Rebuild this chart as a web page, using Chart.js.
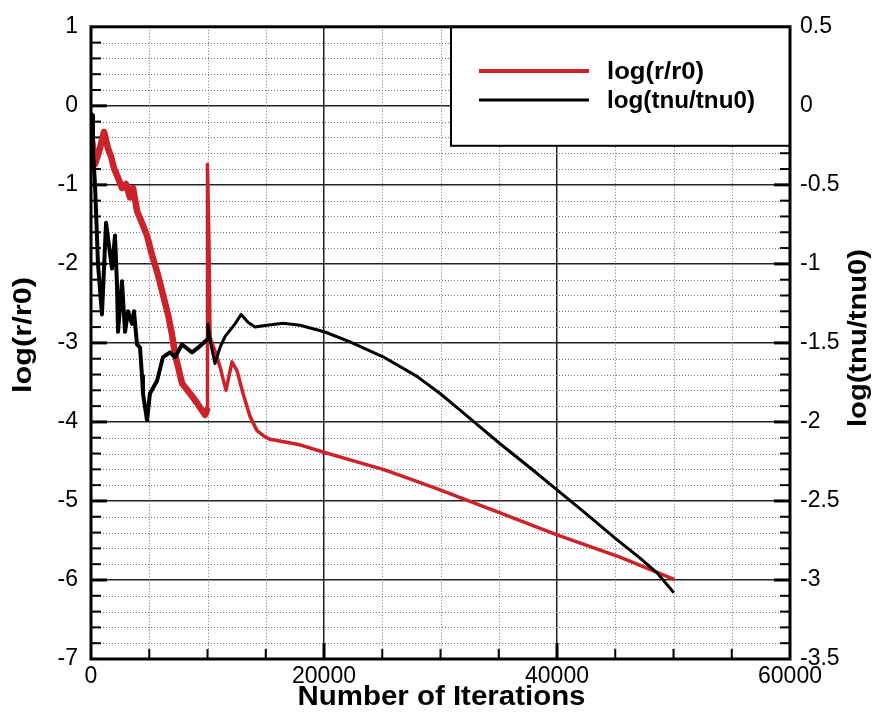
<!DOCTYPE html>
<html>
<head>
<meta charset="utf-8">
<title>Convergence history</title>
<script src="https://cdn.jsdelivr.net/npm/chart.js@4.4.0/dist/chart.umd.min.js"></script>
<style>
  html, body { margin: 0; padding: 0; background: #fff; }
  canvas { display: block; }
</style>
</head>
<body>
<canvas id="myChart" width="876" height="719"></canvas>
<script>
// Residual history, log(r/r0) on the left axis
const redIters = [100, 340, 690, 1120, 1460, 1720, 1970, 2320, 2660, 3000, 3350, 3610, 3950, 4290, 4810,
    5240, 5750, 6180, 6610, 6950, 7210, 7470, 7810, 8500, 9100, 9790, 9960, 10000, 10130, 10220, 10640,
    11070, 11590, 12100, 12530, 13050, 13650, 14250, 14940, 15370, 17940, 19920, 22230, 25070, 27380,
    29960, 35110, 40000, 45410, 50000];
const redVals = [-0.45, -0.74, -0.58, -0.33, -0.54, -0.64, -0.79, -0.91, -1.04, -0.99, -1.16, -1.04, -1.33, -1.45, -1.64,
    -1.89, -2.14, -2.39, -2.64, -2.89, -3.14, -3.30, -3.51, -3.64, -3.76, -3.91, -3.85, -0.74, -1.76, -2.93, -3.10,
    -3.30, -3.60, -3.24, -3.35, -3.64, -3.93, -4.11, -4.19, -4.22, -4.29, -4.38, -4.48, -4.60, -4.72,
    -4.86, -5.15, -5.43, -5.71, -5.99];

// Turbulence variable history, log(tnu/tnu0) on the right axis
const tnuIters = [0, 100, 170, 340, 600, 940, 1290, 1800, 2060, 2230, 2320, 2660, 2920, 3180, 3520, 3690,
    3950, 4210, 4380, 4460, 4810, 5060, 5670, 6180, 6780, 7210, 7810, 8670, 9360, 9960, 10040, 10300,
    10640, 11070, 11500, 12360, 12880, 13480, 14080, 14940, 16480, 17940, 20090, 22230, 25070, 27980,
    29960, 31680, 33390, 35110, 37690, 40000, 42410, 44980, 47130, 48590, 49960];
const tnuVals = [-0.05, -0.06, -0.29, -0.49, -1.00, -1.32, -0.74, -1.03, -0.82, -1.13, -1.43, -1.11, -1.43, -1.30, -1.38, -1.30,
    -1.51, -1.53, -1.71, -1.82, -1.99, -1.82, -1.74, -1.59, -1.56, -1.59, -1.51, -1.56, -1.52, -1.48, -1.38, -1.51,
    -1.63, -1.53, -1.46, -1.38, -1.32, -1.37, -1.40, -1.39, -1.375, -1.388, -1.431, -1.494, -1.588, -1.712,
    -1.820, -1.925, -2.031, -2.138, -2.290, -2.430, -2.575, -2.735, -2.862, -2.955, -3.075];

const seriesNames = ["log(r/r0)", "log(tnu/tnu0)"];
const xTicks = [0, 20000, 40000, 60000];
const leftTicks = [1, 0, -1, -2, -3, -4, -5, -6, -7];
const rightTicks = [0.5, 0, -0.5, -1, -1.5, -2, -2.5, -3, -3.5];

const RED = "#cc2229";
const FONT = "'Liberation Sans', Arial, Helvetica, sans-serif";
const X_MINOR = 5000;
const Y_MINOR = 0.2;

const toPoints = (xs, ys) => xs.map((x, i) => ({ x: x, y: ys[i] }));

const line = (ctx, x1, y1, x2, y2) => {
    ctx.beginPath();
    ctx.moveTo(x1, y1);
    ctx.lineTo(x2, y2);
    ctx.stroke();
};

// text squeezed or stretched to a given width
const fitText = (ctx, text, x, y, angle, font, width, align) => {
    ctx.save();
    ctx.font = font;
    const w = ctx.measureText(text).width;
    ctx.translate(x, y);
    ctx.rotate(angle);
    ctx.scale(width / w, 1);
    ctx.textAlign = align || "center";
    ctx.textBaseline = "middle";
    ctx.fillStyle = "#000";
    ctx.fillText(text, 0, 0);
    ctx.restore();
};

const setTicks = (list) => (scale) => {
    scale.ticks = list.map((v) => ({ value: v }));
};

// dotted minor grid and inward tick marks
const minorGrid = {
    id: "minorGrid",
    beforeDatasetsDraw(chart) {
        const { ctx, chartArea: a, scales } = chart;
        const xs = scales.x, ys = scales.y;
        ctx.save();
        ctx.strokeStyle = "#777";
        ctx.lineWidth = 1;
        ctx.setLineDash([1, 2]);
        for (let v = X_MINOR; v < xs.max; v += X_MINOR) {
            if (xTicks.includes(v)) continue;
            const px = Math.round(xs.getPixelForValue(v)) + 0.5;
            line(ctx, px, a.top, px, a.bottom);
        }
        for (let i = 1; i < 40; i++) {
            if (i % 5 === 0) continue;
            const py = Math.round(ys.getPixelForValue(ys.max - i * Y_MINOR)) + 0.5;
            line(ctx, a.left, py, a.right, py);
        }
        ctx.setLineDash([]);
        ctx.strokeStyle = "#000";
        // bottom ticks
        for (let v = X_MINOR; v < xs.max; v += X_MINOR) {
            const major = xTicks.includes(v);
            ctx.lineWidth = major ? 3 : 2;
            const px = xs.getPixelForValue(v);
            line(ctx, px, a.bottom, px, a.bottom - (major ? 16 : 10));
        }
        // left and right ticks
        for (let i = 1; i < 40; i++) {
            const major = i % 5 === 0;
            ctx.lineWidth = major ? 3 : 2;
            const py = ys.getPixelForValue(ys.max - i * Y_MINOR);
            const len = major ? 16 : 10;
            line(ctx, a.left, py, a.left + len, py);
            line(ctx, a.right, py, a.right - len, py);
        }
        ctx.restore();
    },
    afterDraw(chart) {
        const { ctx, chartArea: a } = chart;
        ctx.save();

        // legend box
        const lx = 451, ly = a.top, lw = a.right - 451, lh = 119;
        ctx.fillStyle = "#fff";
        ctx.fillRect(lx, ly, lw, lh);
        ctx.strokeStyle = "#000";
        ctx.lineWidth = 2;
        ctx.strokeRect(lx, ly, lw, lh);

        const rows = [
            { name: seriesNames[0], color: RED, width: 4, y: 71, w: 97 },
            { name: seriesNames[1], color: "#000", width: 3, y: 100, w: 148 },
        ];
        rows.forEach((r) => {
            ctx.strokeStyle = r.color;
            ctx.lineWidth = r.width;
            line(ctx, 479, r.y, 589, r.y);
            fitText(ctx, r.name, 607, r.y + 1, 0, "bold 24px " + FONT, r.w, "left");
        });

        // plot frame
        ctx.strokeStyle = "#000";
        ctx.lineWidth = 3;
        ctx.strokeRect(a.left, a.top, a.right - a.left, a.bottom - a.top);

        // axis titles
        fitText(ctx, "Number of Iterations", (a.left + a.right) / 2 + 1, 698, 0, "bold 27px " + FONT, 288);
        fitText(ctx, "log(r/r0)", 24, 335, -Math.PI / 2, "bold 26px " + FONT, 116);
        fitText(ctx, "log(tnu/tnu0)", 859, 338, -Math.PI / 2, "bold 26px " + FONT, 178);
        ctx.restore();
    },
};

const tickFont = { family: FONT, size: 23 };

const ctx = document.getElementById("myChart").getContext("2d");
const myChart = new Chart(ctx, {
    type: "line",
    data: {
        datasets: [
            {
                label: seriesNames[0],
                data: toPoints(redIters, redVals),
                yAxisID: "y",
                borderColor: RED,
                borderWidth: 3.5,
                segment: { borderWidth: (c) => (c.p1.parsed.x < 9990 ? 6.5 : 3.5) },
                order: 2,
            },
            {
                label: seriesNames[1],
                data: toPoints(tnuIters, tnuVals),
                yAxisID: "y2",
                borderColor: "#000",
                borderWidth: 3,
                segment: { borderWidth: (c) => (c.p1.parsed.x < 9990 ? 4 : 3) },
                order: 1,
            },
        ],
    },
    options: {
        responsive: false,
        animation: false,
        devicePixelRatio: 1,
        parsing: false,
        elements: {
            point: { radius: 0 },
            line: { tension: 0, borderJoinStyle: "round", borderCapStyle: "round" },
        },
        layout: { padding: { top: 19, left: 0, right: 0, bottom: 0 } },
        plugins: {
            legend: { display: false },
            tooltip: { enabled: false },
        },
        scales: {
            x: {
                type: "linear",
                min: 0,
                max: 60000,
                afterBuildTicks: setTicks(xTicks),
                afterFit: (s) => { s.height = 60; },
                ticks: {
                    autoSkip: false,
                    maxRotation: 0,
                    color: "#000",
                    font: tickFont,
                    padding: 4,
                    callback: (v) => String(v),
                },
                grid: { color: "#222", lineWidth: 1.5, drawTicks: false },
                border: { display: false },
            },
            y: {
                position: "left",
                min: -7,
                max: 1,
                afterBuildTicks: setTicks(leftTicks),
                afterFit: (s) => { s.width = 91; },
                ticks: { color: "#000", font: tickFont, padding: 13, callback: (v) => String(v) },
                grid: { color: "#222", lineWidth: 1.5, drawTicks: false },
                border: { display: false },
            },
            y2: {
                position: "right",
                min: -3.5,
                max: 0.5,
                afterBuildTicks: setTicks(rightTicks),
                afterFit: (s) => { s.width = 86; },
                ticks: { color: "#000", font: tickFont, padding: 10, callback: (v) => String(v) },
                grid: { drawOnChartArea: false, drawTicks: false },
                border: { display: false },
            },
        },
    },
    plugins: [minorGrid],
});
</script>
</body>
</html>
